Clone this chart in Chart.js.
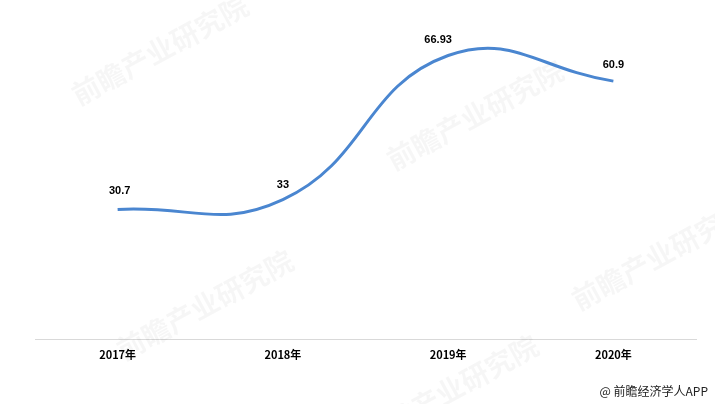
<!DOCTYPE html>
<html>
<head>
<meta charset="utf-8">
<script src="https://cdn.jsdelivr.net/npm/chart.js@4/dist/chart.umd.min.js"></script>
<style>
  html, body { margin: 0; padding: 0; background: #fff; }
  #wrap { width: 715px; height: 404px; position: relative; }
</style>
</head>
<body>
<div id="wrap"><canvas id="chart"></canvas></div>
<script>
// 数据
const years = ['2017年', '2018年', '2019年', '2020年'];
const values = [30.7, 33, 66.93, 60.9];
const valueLabels = ['30.7', '33', '66.93', '60.9'];

// 水印
const watermarkPlugin = {
  id: 'watermark',
  beforeDatasetsDraw(chart) {
    const ctx = chart.ctx;
    const spots = [[160, 50], [475, 115], [660, 255], [205, 305], [450, 390]];
    ctx.save();
    spots.forEach(([x, y]) => {
      ctx.save();
      ctx.translate(x, y);
      ctx.rotate(-0.5);
      ctx.fillStyle = 'rgba(0, 0, 0, 0.035)';
      ctx.font = 'bold 28px "Noto Sans CJK SC"';
      ctx.textAlign = 'center';
      ctx.textBaseline = 'middle';
      ctx.fillText('前瞻产业研究院', 0, 0);
      ctx.restore();
    });
    ctx.restore();
  }
};

// 数据标签 + 来源
const labelPlugin = {
  id: 'labels',
  afterDatasetsDraw(chart) {
    const ctx = chart.ctx;
    const meta = chart.getDatasetMeta(0);
    const offsets = [[2, -18], [0, -15], [-10, -16], [0, -16]];
    ctx.save();
    ctx.font = 'bold 11px "Liberation Sans", Arial, sans-serif';
    ctx.fillStyle = '#000';
    ctx.textAlign = 'center';
    ctx.textBaseline = 'middle';
    meta.data.forEach((pt, i) => {
      ctx.fillText(valueLabels[i], pt.x + offsets[i][0], pt.y + offsets[i][1]);
    });
    ctx.font = '12px "Noto Sans CJK SC", sans-serif';
    ctx.fillStyle = '#222';
    ctx.textAlign = 'right';
    ctx.fillText('@ 前瞻经济学人APP', 708, 391);
    ctx.restore();
  }
};

const ctx = document.getElementById('chart').getContext('2d');
new Chart(ctx, {
  type: 'line',
  data: {
    labels: years,
    datasets: [{
      data: values,
      borderColor: '#4a86d0',
      borderWidth: 3,
      pointRadius: 0,
      tension: 0.45,
      fill: false
    }]
  },
  options: {
    responsive: true,
    maintainAspectRatio: false,
    animation: false,
    layout: { padding: { left: 35, right: 19, top: 0, bottom: 43 } },
    scales: {
      x: {
        offset: true,
        grid: { display: false },
        border: { display: true, color: '#d9d9d9', width: 1 },
        ticks: {
          color: '#000',
          padding: 0,
          font: { family: '"Noto Sans CJK SC", sans-serif', size: 11, weight: 'bold' }
        }
      },
      y: {
        display: false,
        min: 0,
        max: 80
      }
    },
    plugins: { legend: { display: false }, tooltip: { enabled: false } }
  },
  plugins: [watermarkPlugin, labelPlugin]
});
</script>
</body>
</html>
